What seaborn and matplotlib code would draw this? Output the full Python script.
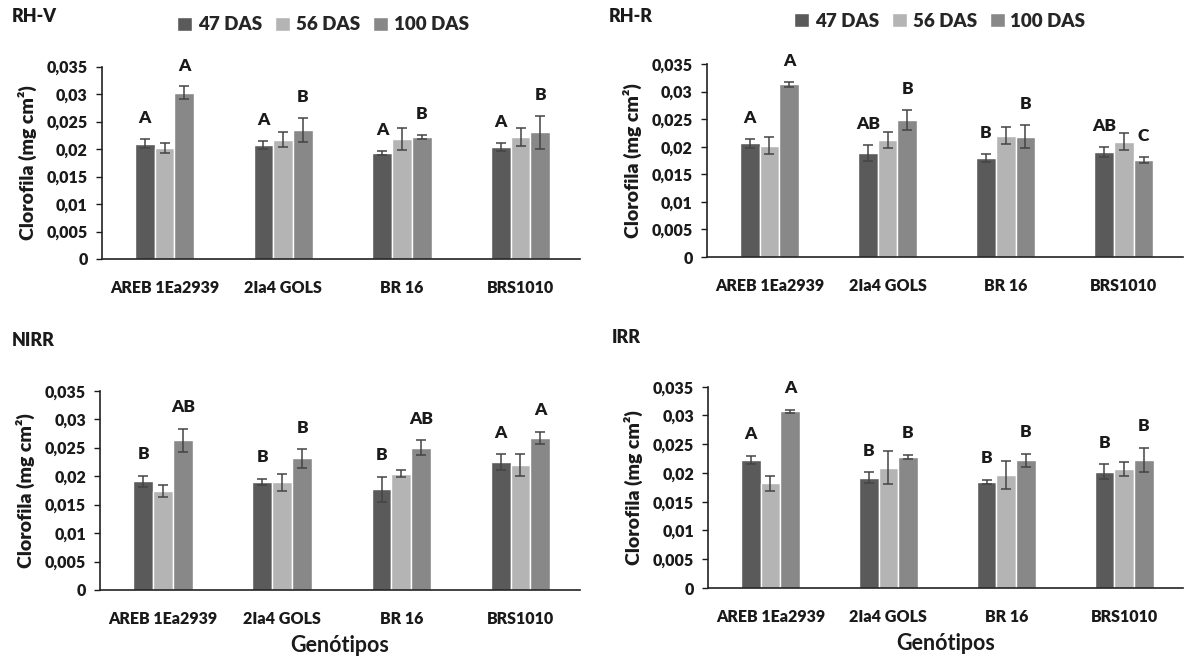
import matplotlib
matplotlib.use('Agg')
import matplotlib.pyplot as plt
import numpy as np
import pandas as pd
import seaborn as sns

genotypes = ['AREB 1Ea2939', '2Ia4 GOLS', 'BR 16', 'BRS1010']
das_levels = ['47 DAS', '56 DAS', '100 DAS']
colors = ['#5a5a5a', '#b4b4b4', '#888888']

# RH-V
rhv_47 = [0.0210, 0.0208, 0.0193, 0.0204]
rhv_56 = [0.0202, 0.0217, 0.0218, 0.0222]
rhv_100 = [0.0303, 0.0235, 0.0222, 0.0231]
rhv_err_47 = [0.0008, 0.0007, 0.0004, 0.0008]
rhv_err_56 = [0.0010, 0.0014, 0.0020, 0.0016]
rhv_err_100 = [0.0011, 0.0022, 0.0004, 0.0030]
rhv_let_47 = ['A', 'A', 'A', 'A']
rhv_let_100 = ['A', 'B', 'B', 'B']

# RH-R
rhr_47 = [0.0206, 0.0189, 0.0179, 0.0191]
rhr_56 = [0.0202, 0.0212, 0.0220, 0.0209]
rhr_100 = [0.0313, 0.0249, 0.0218, 0.0176]
rhr_err_47 = [0.0008, 0.0015, 0.0007, 0.0009]
rhr_err_56 = [0.0015, 0.0014, 0.0015, 0.0015]
rhr_err_100 = [0.0004, 0.0018, 0.0021, 0.0005]
rhr_let_47 = ['A', 'AB', 'B', 'AB']
rhr_let_100 = ['A', 'B', 'B', 'C']

# NIRR
nirr_47 = [0.0191, 0.0190, 0.0177, 0.0224]
nirr_56 = [0.0174, 0.0189, 0.0204, 0.0219]
nirr_100 = [0.0263, 0.0231, 0.0250, 0.0267]
nirr_err_47 = [0.0010, 0.0005, 0.0022, 0.0014]
nirr_err_56 = [0.0011, 0.0015, 0.0006, 0.0019]
nirr_err_100 = [0.0020, 0.0016, 0.0013, 0.0011]
nirr_let_47 = ['B', 'B', 'B', 'A']
nirr_let_100 = ['AB', 'B', 'AB', 'A']

# IRR
irr_47 = [0.0223, 0.0192, 0.0184, 0.0202]
irr_56 = [0.0182, 0.0209, 0.0196, 0.0207]
irr_100 = [0.0307, 0.0228, 0.0222, 0.0223]
irr_err_47 = [0.0007, 0.0009, 0.0004, 0.0013]
irr_err_56 = [0.0013, 0.0029, 0.0024, 0.0012]
irr_err_100 = [0.0003, 0.0004, 0.0011, 0.0021]
irr_let_47 = ['A', 'B', 'B', 'B']
irr_let_100 = ['A', 'B', 'B', 'B']

yticks = [0, 0.005, 0.01, 0.015, 0.02, 0.025, 0.03, 0.035]
ytick_labels = ['0', '0,005', '0,01', '0,015', '0,02', '0,025', '0,03', '0,035']

sns.set_style('white')
plt.rcParams['font.family'] = ['Lato', 'DejaVu Sans']
plt.rcParams['font.weight'] = 'heavy'
W = 'heavy'
INK = '#1a1a1a'


def tidy(v47, v56, v100):
    rows = []
    for das, vals in zip(das_levels, [v47, v56, v100]):
        for g, v in zip(genotypes, vals):
            rows.append({'genotype': g, 'das': das, 'value': v})
    return pd.DataFrame(rows)


def panel(ax, name, title_xy, vals, errs, let47, let100, legend_xy=None, xlabel=False):
    df = tidy(*vals)
    sns.barplot(data=df, x='genotype', y='value', hue='das', order=genotypes,
                hue_order=das_levels, palette=colors, saturation=1, width=0.5,
                gap=0, errorbar=None, ax=ax, legend=legend_xy is not None)
    for cont, err in zip(ax.containers, errs):
        xs = [b.get_x() + b.get_width() / 2 for b in cont]
        hs = [b.get_height() for b in cont]
        ax.errorbar(xs, hs, yerr=err, fmt='none', ecolor='#444444',
                    elinewidth=1.1, capsize=3.5, capthick=1.1)
    for cont, err, lets in [(ax.containers[0], errs[0], let47),
                            (ax.containers[2], errs[2], let100)]:
        for b, e, t in zip(cont, err, lets):
            ax.text(b.get_x() + b.get_width() / 2, b.get_height() + e + 0.0038, t,
                    ha='center', va='center', fontsize=12.5, fontweight=W,
                    color=INK)

    ax.set_xlim(-0.53, 3.5)
    ax.set_ylim(0, 0.035)
    ax.set_yticks(yticks)
    ax.set_yticklabels(ytick_labels)
    ax.tick_params(axis='y', left=True, direction='out', length=4, width=1,
                   pad=6, labelsize=11.5, colors=INK)
    ax.tick_params(axis='x', bottom=False, length=0, pad=15, labelsize=11.5,
                   colors=INK)
    for lab in ax.get_xticklabels() + ax.get_yticklabels():
        lab.set_fontweight(W)
    sns.despine(ax=ax)
    for s in ['left', 'bottom']:
        ax.spines[s].set_color('#222222')
        ax.spines[s].set_linewidth(1.2)
    ax.set_ylabel('Clorofila (mg cm²)', fontsize=14, fontweight=W,
                  color=INK, labelpad=7)
    if xlabel:
        ax.set_xlabel('Genótipos', fontsize=15.5, fontweight='bold',
                      color=INK, labelpad=6)
    else:
        ax.set_xlabel('')
    fig.text(title_xy[0], title_xy[1], name, fontsize=13, fontweight=W,
             ha='left', va='center', color=INK)
    if legend_xy is not None:
        sns.move_legend(ax, 'center', bbox_to_anchor=legend_xy,
                        bbox_transform=fig.transFigure, ncol=3, frameon=False,
                        title=None, handlelength=0.8,
                        handleheight=0.8, handletextpad=0.3, columnspacing=0.7,
                        prop={'weight': W, 'size': 13.5})


fig = plt.figure(figsize=(11.85, 6.57), dpi=100)
ax_tl = fig.add_axes([0.0858, 0.6058, 0.4036, 0.2927])
ax_tr = fig.add_axes([0.5964, 0.6088, 0.4019, 0.2938])
ax_bl = fig.add_axes([0.0844, 0.1020, 0.4051, 0.3033])
ax_br = fig.add_axes([0.5975, 0.1050, 0.4008, 0.3064])

panel(ax_tl, 'RH-V', (0.010, 0.975), [rhv_47, rhv_56, rhv_100],
      [rhv_err_47, rhv_err_56, rhv_err_100], rhv_let_47, rhv_let_100,
      legend_xy=(0.2726, 0.962))
panel(ax_tr, 'RH-R', (0.514, 0.975), [rhr_47, rhr_56, rhr_100],
      [rhr_err_47, rhr_err_56, rhr_err_100], rhr_let_47, rhr_let_100,
      legend_xy=(0.793, 0.968))
panel(ax_bl, 'NIRR', (0.010, 0.482), [nirr_47, nirr_56, nirr_100],
      [nirr_err_47, nirr_err_56, nirr_err_100], nirr_let_47, nirr_let_100,
      xlabel=True)
panel(ax_br, 'IRR', (0.516, 0.486), [irr_47, irr_56, irr_100],
      [irr_err_47, irr_err_56, irr_err_100], irr_let_47, irr_let_100,
      xlabel=True)

fig.savefig('out.png', dpi=100)
